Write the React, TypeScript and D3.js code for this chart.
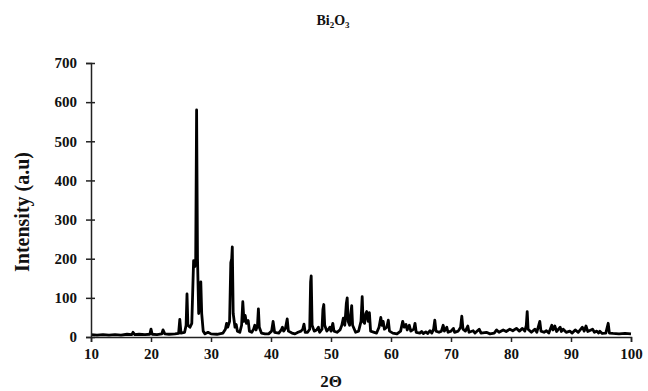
import { useEffect, useRef } from 'react'
import * as d3 from 'd3'

// 2θ positions and intensities
const twoTheta = [
  10, 11, 12, 13, 14, 15, 16, 16.8, 17, 17.3, 18, 19, 19.8, 20, 20.2, 21, 21.8, 22, 22.3, 23, 24, 24.6, 24.8, 25.0,
  25.6, 25.85, 26.0, 26.15, 26.5, 26.8, 27.1, 27.3, 27.45, 27.6, 27.75, 27.95, 28.15, 28.3, 28.45, 28.7, 29.0, 29.5,
  30, 31, 32, 32.4, 32.6, 32.8, 33.1, 33.3, 33.45, 33.55, 33.7, 34.0, 34.2, 34.4, 34.8, 35.1, 35.3, 35.5, 35.7, 35.9,
  36.2, 36.4, 36.8, 37.1, 37.3, 37.5, 37.75, 37.9, 38.05, 38.4, 39, 39.6, 40.1, 40.35, 40.6, 41.3, 41.7, 41.9, 42.1,
  42.4, 42.7, 42.9, 43.5, 44, 44.5, 45, 45.3, 45.5, 45.7, 46.1, 46.45, 46.6, 46.7, 46.85, 47.2, 47.6, 47.9, 48.1,
  48.5, 48.65, 48.8, 48.95, 49.3, 49.6, 49.8, 50.0, 50.3, 50.5, 51, 51.5, 51.8, 52.05, 52.3, 52.55, 52.7, 52.85,
  53.1, 53.3, 53.45, 53.6, 54.1, 54.6, 55.0, 55.2, 55.35, 55.6, 55.8, 55.95, 56.2, 56.4, 56.6, 57.2, 57.6, 58.0,
  58.3, 58.5, 58.7, 58.9, 59.3, 59.55, 59.75, 60.3, 61, 61.6, 61.95, 62.2, 62.5, 62.7, 63.05, 63.3, 63.8, 64.0,
  64.2, 64.8, 65.1, 65.4, 65.8, 66.1, 66.5, 66.8, 67.1, 67.3, 67.5, 68, 68.4, 68.7, 68.9, 69.3, 69.5, 70, 70.4,
  70.6, 71.2, 71.6, 71.8, 72.0, 72.4, 72.8, 73.0, 73.7, 74.0, 74.7, 75.0, 75.9, 76.5, 77.2, 77.6, 78.0, 78.7,
  79.2, 79.8, 80.3, 80.9, 81.4, 81.9, 82.3, 82.55, 82.7, 82.85, 83.4, 84.0, 84.3, 84.8, 85.0, 85.5, 85.9, 86.3,
  86.8, 87.0, 87.3, 87.6, 88.2, 88.4, 88.7, 89.2, 89.8, 90.2, 90.7, 91.2, 91.9, 92.2, 92.5, 92.8, 93.6, 93.9,
  94.3, 94.6, 94.8, 95.2, 95.8, 96.2, 96.4, 97, 98, 99, 100,
]
const intensity = [
  6, 5, 6, 5, 6, 5, 7, 6, 12, 6, 7, 6, 7, 20, 7, 6, 8, 18, 8, 7, 8, 9, 45, 10,
  12, 30, 110, 30, 25, 35, 195, 180, 200, 580, 200, 60, 100, 141, 60, 15, 8, 12,
  8, 7, 10, 20, 35, 25, 40, 190, 200, 230, 60, 25, 32, 15, 12, 30, 90, 40, 55, 35,
  42, 15, 12, 20, 30, 18, 30, 72, 25, 10, 8, 8, 15, 40, 12, 10, 18, 25, 15,
  22, 46, 15, 10, 8, 12, 15, 20, 33, 12, 12, 20, 140, 156, 30, 15, 18, 25, 12,
  20, 70, 83, 30, 15, 20, 25, 15, 35, 15, 12, 18, 30, 48, 30, 85, 100, 40,
  30, 60, 80, 30, 12, 15, 40, 103, 40, 35, 60, 65, 40, 62, 15, 12, 10, 25,
  50, 30, 40, 20, 25, 43, 15, 10, 8, 15, 40, 25, 32, 18, 30, 15, 20, 35,
  12, 10, 14, 9, 13, 9, 16, 10, 20, 43, 15, 12, 15, 30, 15, 25, 12, 15, 22,
  12, 15, 25, 53, 20, 15, 28, 12, 16, 10, 20, 10, 12, 8, 10, 18, 12, 18,
  14, 20, 16, 22, 15, 22, 15, 30, 65, 20, 12, 20, 12, 40, 15, 12, 16, 10,
  30, 18, 28, 14, 25, 14, 20, 12, 15, 10, 18, 12, 25, 15, 28, 14, 20, 12,
  15, 10, 15, 9, 10, 35, 10, 9, 8, 9, 8,
]
const xTicks = [10, 20, 30, 40, 50, 60, 70, 80, 90, 100]
const yTicks = [0, 100, 200, 300, 400, 500, 600, 700]

const FONT = '"Liberation Serif", "Times New Roman", serif'

export default function App() {
  const ref = useRef<SVGSVGElement>(null)

  useEffect(() => {
    const svg = d3.select(ref.current!)
    svg.selectAll('*').remove()
    const W = 648, H = 391
    const m = { t: 63, r: 17, b: 54, l: 91 }
    const iW = W - m.l - m.r, iH = H - m.t - m.b

    const x = d3.scaleLinear().domain([10, 100]).range([0, iW])
    const y = d3.scaleLinear().domain([0, 700]).range([iH, 0])
    const g = svg.append('g').attr('transform', `translate(${m.l},${m.t})`)

    // Title with subscripts
    const title = svg.append('text').attr('x', 333).attr('y', 25).attr('text-anchor', 'middle')
      .attr('font-family', FONT).attr('font-weight', 'bold').attr('font-size', 14).attr('fill', '#111')
    title.append('tspan').text('Bi')
    title.append('tspan').attr('font-size', 9).attr('dy', 3).text('2')
    title.append('tspan').attr('dy', -3).text('O')
    title.append('tspan').attr('font-size', 9).attr('dy', 3).text('3')

    // Pattern
    const pts = twoTheta.map((t, i) => [t, intensity[i]] as [number, number])
    const line = d3.line<[number, number]>().x(d => x(d[0])).y(d => y(d[1]))
    g.append('path').datum(pts).attr('d', line).attr('fill', 'none')
      .attr('stroke', '#000').attr('stroke-width', 2.8).attr('stroke-linejoin', 'round')

    // Y axis
    const yAx = g.append('g').call(d3.axisLeft(y).tickValues(yTicks).tickSize(5).tickPadding(9))
    yAx.select('.domain').attr('stroke', '#222').attr('stroke-width', 1.5)
    yAx.selectAll('.tick line').attr('stroke', '#222').attr('stroke-width', 1.5).attr('x2', -5).attr('x1', 4)
    yAx.selectAll('text').attr('font-family', FONT).attr('font-weight', 'bold').attr('font-size', 15).attr('fill', '#111')

    // X axis
    const xAx = g.append('g').attr('transform', `translate(0,${iH})`)
      .call(d3.axisBottom(x).tickValues(xTicks).tickSize(5).tickPadding(6))
    xAx.select('.domain').attr('stroke', '#222').attr('stroke-width', 1.5)
    xAx.selectAll('.tick line').attr('stroke', '#222').attr('stroke-width', 1.5)
    xAx.selectAll('text').attr('font-family', FONT).attr('font-weight', 'bold').attr('font-size', 15).attr('fill', '#111')

    // Axis titles
    svg.append('text').attr('x', 331).attr('y', 387).attr('text-anchor', 'middle')
      .attr('font-family', FONT).attr('font-weight', 'bold').attr('font-size', 17).attr('fill', '#111').text('2Θ')
    svg.append('text').attr('transform', 'translate(29,212) rotate(-90)').attr('text-anchor', 'middle')
      .attr('font-family', FONT).attr('font-weight', 'bold').attr('font-size', 20).attr('fill', '#111')
      .text('Intensity (a.u)')
  }, [])

  return (
    <svg ref={ref} width={648} height={391}
      style={{ position: 'absolute', left: 0, top: 0, display: 'block', background: '#fff' }} />
  )
}
